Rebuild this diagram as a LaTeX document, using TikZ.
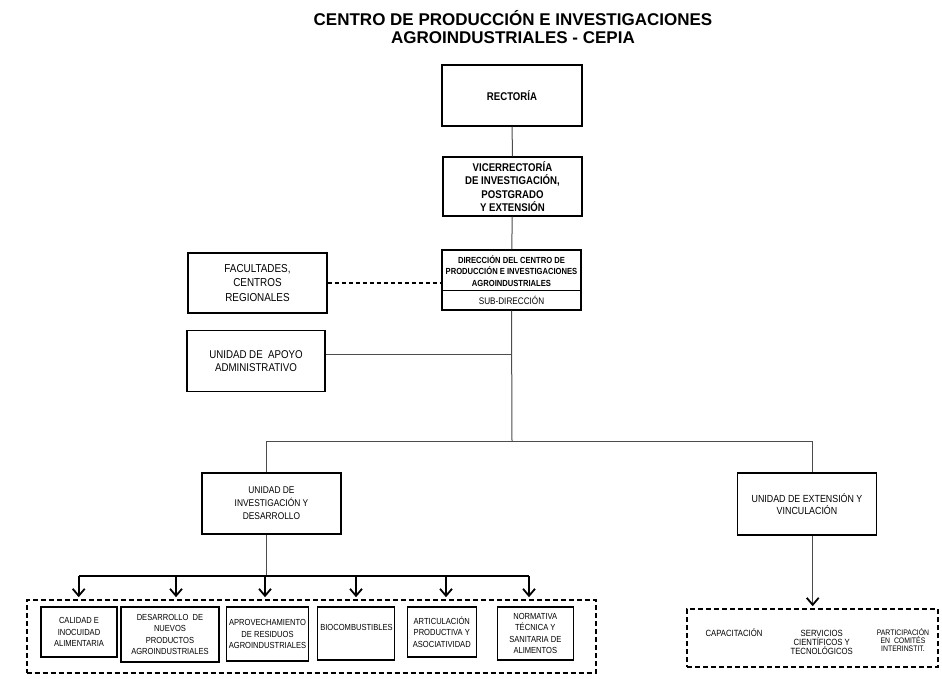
\documentclass[tikz,border=0pt]{standalone}
\usepackage{fontspec}
\setmainfont{Liberation Sans}
\newfontfamily\narrowfont[FakeStretch=0.86]{Liberation Sans}
\usetikzlibrary{arrows.meta}
\tikzset{
  box/.style={draw, line width=1.2pt, align=center, inner sep=1pt,
    font=\narrowfont\fontsize{11.5}{14.5}\selectfont},
  headbox/.style={box, font=\narrowfont\bfseries\fontsize{11.2}{13.5}\selectfont},
  item/.style={draw, line width=1.1pt, align=center, inner sep=0.5pt,
    font=\narrowfont\fontsize{8.8}{11.6}\selectfont},
  group/.style={draw, line width=1.6pt, dash pattern=on 5pt off 3pt},
  link/.style={draw=black!70, line width=1pt},
  bar/.style={line width=1.8pt},
  arr/.style={line width=1.8pt, shorten >=2pt, -{Straight Barb[length=7pt,width=12pt]}},
  title/.style={align=center, font=\bfseries\fontsize{17}{17.5}\selectfont}
}

\begin{document}
\begin{tikzpicture}[x=1pt, y=-1pt]
    %%%%% START %%%%%
    \useasboundingbox (0,0) rectangle (942,679);
    
    \node[title] (ttl) at (513,27) {CENTRO DE PRODUCCIÓN E INVESTIGACIONES\\AGROINDUSTRIALES - CEPIA};
    
    \node[headbox, minimum width=140pt, minimum height=61pt] (rect) at (512,95.5) {RECTORÍA};
    \node[headbox, minimum width=139pt, minimum height=59pt] (vice) at (512.5,186.5) {VICERRECTORÍA\\DE INVESTIGACIÓN,\\POSTGRADO\\Y EXTENSIÓN};
    
    \node[box, minimum width=139pt, minimum height=60pt] (dir) at (511.5,280) {};
    \node[align=center, font=\narrowfont\bfseries\fontsize{8.85}{11.3}\selectfont] (dirtxt) at (511.5,271) {DIRECCIÓN DEL CENTRO DE\\PRODUCCIÓN E INVESTIGACIONES\\AGROINDUSTRIALES};
    \draw[line width=0.8pt] (dir.west |- 0,290) -- (dir.east |- 0,290);
    \node[font=\narrowfont\fontsize{9.5}{10}\selectfont] (subdir) at (511.5,300.5) {SUB-DIRECCIÓN};
    
    \node[box, minimum width=139pt, minimum height=60pt] (fac) at (257.5,283) {FACULTADES,\\CENTROS\\REGIONALES};
    \node[box, minimum width=138pt, minimum height=61pt, font=\narrowfont\fontsize{11.3}{12.7}\selectfont] (apoyo) at (256,361) {UNIDAD DE \ APOYO\\ADMINISTRATIVO};
    
    \node[box, minimum width=139pt, minimum height=61pt, font=\narrowfont\fontsize{9.75}{13}\selectfont] (inv) at (271.5,503.5) {UNIDAD DE\\INVESTIGACIÓN Y\\DESARROLLO};
    \node[box, minimum width=139pt, minimum height=62pt, font=\narrowfont\fontsize{10.3}{11.7}\selectfont] (ext) at (807,504) {UNIDAD DE EXTENSIÓN Y\\VINCULACIÓN};
    
    % connectors
    \draw[link] (rect) -- (vice);
    \draw[link] (vice) -- (dir);
    \draw[line width=1.5pt, dash pattern=on 4pt off 3pt] (fac.east) -- (dir.west |- fac.east);
    \coordinate (split) at (512,441.7);
    \draw[link] (dir.south) -- (split);
    \draw[link] ([yshift=7pt]apoyo.east) coordinate (ap) -- (ap -| split);
    \draw[link] (split) -| ([xshift=-5.5pt]inv.north);
    \draw[link] (split) -| ([xshift=5.7pt]ext.north);
    
    % investigacion y desarrollo
    \node[group, minimum width=569pt, minimum height=73pt] (idgrp) at (311.2,636.5) {};
    \node[item, minimum width=76pt, minimum height=50pt] (cal) at (79,632) {CALIDAD E\\INOCUIDAD\\ALIMENTARIA};
    \node[item, minimum width=98pt, minimum height=55pt] (nue) at (170,634.5) {DESARROLLO \ DE\\NUEVOS\\PRODUCTOS\\AGROINDUSTRIALES};
    \node[item, minimum width=81.6pt, minimum height=54pt] (apr) at (267.5,634) {APROVECHAMIENTO\\DE RESIDUOS\\AGROINDUSTRIALES};
    \node[item, minimum width=76.7pt, minimum height=53pt] (bio) at (355.7,633.5) {};
    \node[font=\narrowfont\fontsize{8.8}{11.6}\selectfont] (biotxt) at (356.5,627) {BIOCOMBUSTIBLES};
    \node[item, minimum width=69pt, minimum height=50pt] (art) at (441.8,632) {ARTICULACIÓN\\PRODUCTIVA Y\\ASOCIATIVIDAD};
    \node[item, minimum width=76pt, minimum height=53pt] (nor) at (535.3,633.5) {NORMATIVA\\TÉCNICA Y\\SANITARIA DE\\ALIMENTOS};
    
    \draw[link] ([xshift=-5.5pt]inv.south) -- ++(0,42) coordinate (bus);
    \draw[bar] (78.7,576) -- (529,576);
    \foreach \x in {78.7,176,265,356,446,529}{
        \coordinate (drop) at (\x,576);
        \draw[arr] (drop) -- (drop |- idgrp.north);
    }
    
    % extension y vinculacion
    \node[group, minimum width=251pt, minimum height=58pt] (extgrp) at (812.3,638) {};
    \node[font=\narrowfont\fontsize{9}{9}\selectfont] (cap) at (734,633) {CAPACITACIÓN};
    \node[align=center, font=\narrowfont\fontsize{9}{9}\selectfont] (serv) at (821.7,642) {SERVICIOS\\CIENTÍFICOS Y\\TECNOLÓGICOS};
    \node[align=center, font=\narrowfont\fontsize{8}{8}\selectfont] (part) at (903,640) {PARTICIPACIÓN\\EN \ COMITÉS\\INTERINSTIT.};
    \draw[link, shorten >=2pt, -{Straight Barb[length=7pt,width=12pt,line width=1.8pt,color=black]}] ([xshift=5.7pt]ext.south) -- ([xshift=5.7pt]ext.south |- extgrp.north);
    
    %%%%% END %%%%%
\end{tikzpicture}
\end{document}
